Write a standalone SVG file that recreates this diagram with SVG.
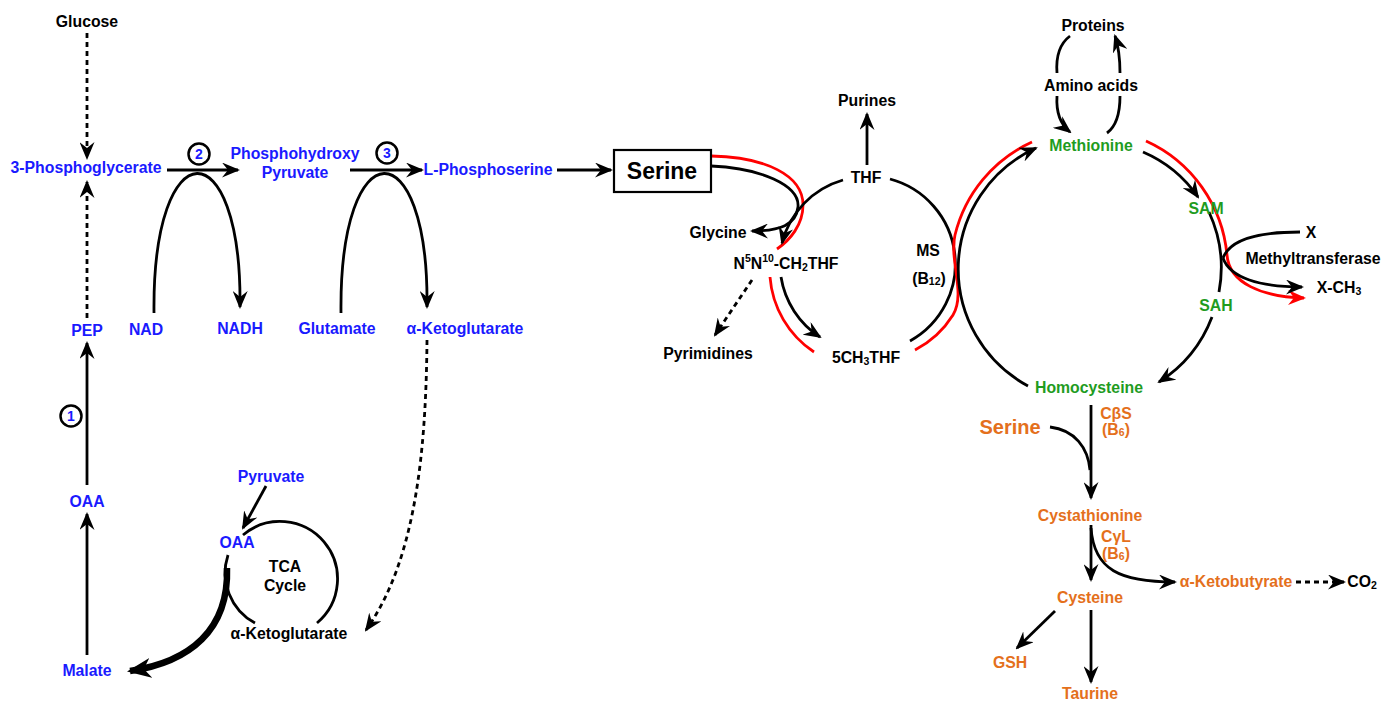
<svg xmlns="http://www.w3.org/2000/svg" width="1382" height="701" viewBox="0 0 1382 701">
<style>
.t{font-family:"Liberation Sans",Arial,sans-serif;font-weight:bold;font-size:15.8px;text-anchor:middle;dominant-baseline:central;fill:#000}
.b{fill:#1a1aff}
.g{fill:#1f9c1f}
.o{fill:#e4701c}
.s{font-size:10.5px}
.ln{fill:none;stroke:#000;stroke-width:2.8}
.rd{fill:none;stroke:#ff0000;stroke-width:2.8}
.ds{stroke-dasharray:5,4}
.a{marker-end:url(#ah)}
.num{fill:#fff;stroke:#000;stroke-width:2.5}
</style>
<defs>
<marker id="ah" viewBox="0 0 18 15" refX="16" refY="7.5" markerWidth="18" markerHeight="15" orient="auto" markerUnits="userSpaceOnUse"><path d="M0,0 L18,7.5 L0,15 L6,7.5 z" fill="#000"/></marker>
<marker id="ahr" viewBox="0 0 18 15" refX="16" refY="7.5" markerWidth="18" markerHeight="15" orient="auto" markerUnits="userSpaceOnUse"><path d="M0,0 L18,7.5 L0,15 L6,7.5 z" fill="#ff0000"/></marker>
<marker id="ahb" viewBox="0 0 24 20" refX="21" refY="10" markerWidth="24" markerHeight="20" orient="auto" markerUnits="userSpaceOnUse"><path d="M0,0 L24,10 L0,20 L7,10 z" fill="#000"/></marker>
</defs>
<rect width="1382" height="701" fill="#fff"/>

<g id="connectors">
<path class="ln ds a" d="M87,33 L87,158"/>
<path class="ln ds a" d="M87,318 L87,182"/>
<path class="ln a" d="M87,485 L87,343"/>
<path class="ln a" d="M87,655 L87,514"/>
<path class="ln a" d="M167,170 L238,170"/>
<path class="ln a" d="M350,170 L422,170"/>
<path class="ln a" d="M557,170 L611,170"/>
<path class="ln a" d="M154,313 C152,128 242,128 240,307"/>
<path class="ln a" d="M341,313 C339,128 429,128 427,307"/>
<path class="ln ds a" d="M427,340 C426,450 416,560 366,630"/>
<path class="ln" d="M243,535 A57,57 0 1 1 317,623"/>
<path class="ln" d="M228,555 A57,57 0 0 0 255,623"/>
<path class="ln a" d="M266,486 L243,528"/>
<path d="M227,568 C229,630 190,662 130,671" fill="none" stroke="#000" stroke-width="6.5" marker-end="url(#ahb)"/>
<path class="rd" d="M711,156 C765,157 803,175 803,205 C803,225 790,240 777,249"/>
<path class="ln a" d="M711,166 C760,168 800,185 798,207 C796,225 780,231 752,231"/>
<path class="ln a" d="M843,180 A88,88 0 0 0 782,243"/>
<path class="ln" d="M890,179 A88,88 0 0 1 910,341"/>
<path class="ln a" d="M781,277 A88,88 0 0 0 820,337"/>
<path class="rd" d="M770,277 A99,99 0 0 0 814,352"/>
<path class="rd" d="M915,350 A98,98 0 0 0 953,315 C966,294 949,259 955,235 A138,138 0 0 1 1032,142"/>
<path class="ln a" d="M867,165 L867,114"/>
<path class="ln ds a" d="M752,280 L715,335"/>
<path class="ln a" d="M1028,386 A133,133 0 0 1 1036,148"/>
<path class="rd" d="M1146,141 A139,139 0 0 1 1227,255 C1229,283 1262,297 1304,298" marker-end="url(#ahr)"/>
<path class="ln a" d="M1143,152 A128,128 0 0 1 1198,197"/>
<path class="ln" d="M1209,212 A133,133 0 0 1 1219,292"/>
<path class="ln a" d="M1212,317 A133,133 0 0 1 1159,382"/>
<path class="ln" d="M1300,232 C1255,232 1230,240 1223,258"/>
<path class="ln a" d="M1223,258 C1230,278 1260,287 1302,287"/>
<path class="ln" d="M1070,36 C1058,45 1056,60 1057,73"/>
<path class="ln a" d="M1057,96 C1056,112 1060,124 1070,132"/>
<path class="ln" d="M1107,133 C1118,125 1120,110 1120,96"/>
<path class="ln a" d="M1120,73 C1120,60 1119,48 1115,36"/>
<path class="ln a" d="M1091,405 L1091,498"/>
<path class="ln" d="M1050,427 C1075,430 1088,448 1090,470"/>
<path class="ln a" d="M1091,525 L1091,580"/>
<path class="ln a" d="M1091,528 C1094,570 1120,582 1175,582"/>
<path class="ln ds a" d="M1296,582 L1344,582"/>
<path class="ln a" d="M1055,611 L1017,648"/>
<path class="ln a" d="M1091,610 L1091,682"/>
</g>

<g id="n-glucose"><text class="t" x="87" y="21">Glucose</text></g>
<g id="n-3pg"><text class="t b" x="86" y="167">3-Phosphoglycerate</text></g>
<g id="n-step2"><circle class="num" cx="199" cy="154" r="10.5"/><text class="t b" x="199" y="154" style="font-size:14px">2</text></g>
<g id="n-php"><text class="t b" x="295" y="153">Phosphohydroxy</text><text class="t b" x="295" y="172">Pyruvate</text></g>
<g id="n-step3"><circle class="num" cx="387" cy="153" r="10.5"/><text class="t b" x="387" y="153" style="font-size:14px">3</text></g>
<g id="n-lps"><text class="t b" x="488" y="169">L-Phosphoserine</text></g>
<g id="n-nad"><text class="t b" x="146" y="329">NAD</text></g>
<g id="n-nadh"><text class="t b" x="240" y="328">NADH</text></g>
<g id="n-glu"><text class="t b" x="337" y="328">Glutamate</text></g>
<g id="n-akg1"><text class="t b" x="465" y="328">α-Ketoglutarate</text></g>
<g id="n-pep"><text class="t b" x="87" y="330">PEP</text></g>
<g id="n-step1"><circle class="num" cx="71" cy="416" r="10.5"/><text class="t b" x="71" y="416" style="font-size:14px">1</text></g>
<g id="n-oaa"><text class="t b" x="87" y="501">OAA</text></g>
<g id="n-malate"><text class="t b" x="87" y="670">Malate</text></g>
<g id="n-pyruvate"><text class="t b" x="271" y="476">Pyruvate</text></g>
<g id="n-oaa2"><text class="t b" x="237" y="542">OAA</text></g>
<g id="n-tca"><text class="t" x="285" y="566">TCA</text><text class="t" x="285" y="585">Cycle</text></g>
<g id="n-akg2"><text class="t" x="289" y="633">α-Ketoglutarate</text></g>

<g id="n-serine"><rect x="614" y="150" width="97" height="42" fill="#fff" stroke="#000" stroke-width="2.2"/><text class="t" x="662" y="171" style="font-size:23px">Serine</text></g>
<g id="n-purines"><text class="t" x="867" y="100">Purines</text></g>
<g id="n-thf"><text class="t" x="866" y="177">THF</text></g>
<g id="n-glycine"><text class="t" x="718" y="232">Glycine</text></g>
<g id="n-ch2thf"><text class="t" x="786" y="263">N<tspan class="s" dy="-5">5</tspan><tspan dy="5">N</tspan><tspan class="s" dy="-5">10</tspan><tspan dy="5">-CH</tspan><tspan class="s" dy="4">2</tspan><tspan dy="-4">THF</tspan></text></g>
<g id="n-pyrimidines"><text class="t" x="708" y="353">Pyrimidines</text></g>
<g id="n-ch3thf"><text class="t" x="866" y="357">5CH<tspan class="s" dy="4">3</tspan><tspan dy="-4">THF</tspan></text></g>
<g id="n-ms"><text class="t" x="928" y="250">MS</text><text class="t" x="929" y="278">(B<tspan class="s" dy="3">12</tspan><tspan dy="-3">)</tspan></text></g>

<g id="n-proteins"><text class="t" x="1093" y="25">Proteins</text></g>
<g id="n-aminoacids"><text class="t" x="1091" y="85">Amino acids</text></g>
<g id="n-methionine"><text class="t g" x="1091" y="145">Methionine</text></g>
<g id="n-sam"><text class="t g" x="1206" y="208">SAM</text></g>
<g id="n-x"><text class="t" x="1311" y="232">X</text></g>
<g id="n-mt"><text class="t" x="1313" y="258">Methyltransferase</text></g>
<g id="n-xch3"><text class="t" x="1339" y="287">X-CH<tspan class="s" dy="4">3</tspan></text></g>
<g id="n-sah"><text class="t g" x="1216" y="305">SAH</text></g>
<g id="n-hcy"><text class="t g" x="1089" y="387">Homocysteine</text></g>
<g id="n-cbs"><text class="t o" x="1116" y="413">CβS</text><text class="t o" x="1116" y="429">(B<tspan class="s" dy="3">6</tspan><tspan dy="-3">)</tspan></text></g>
<g id="n-serine2"><text class="t o" x="1010" y="427" style="font-size:20px">Serine</text></g>
<g id="n-cystathionine"><text class="t o" x="1090" y="515">Cystathionine</text></g>
<g id="n-cgl"><text class="t o" x="1116" y="536">CγL</text><text class="t o" x="1116" y="553">(B<tspan class="s" dy="3">6</tspan><tspan dy="-3">)</tspan></text></g>
<g id="n-akb"><text class="t o" x="1236" y="581">α-Ketobutyrate</text></g>
<g id="n-co2"><text class="t" x="1362" y="581">CO<tspan class="s" dy="4">2</tspan></text></g>
<g id="n-cysteine"><text class="t o" x="1090" y="597">Cysteine</text></g>
<g id="n-gsh"><text class="t o" x="1010" y="662">GSH</text></g>
<g id="n-taurine"><text class="t o" x="1090" y="693">Taurine</text></g>
</svg>
